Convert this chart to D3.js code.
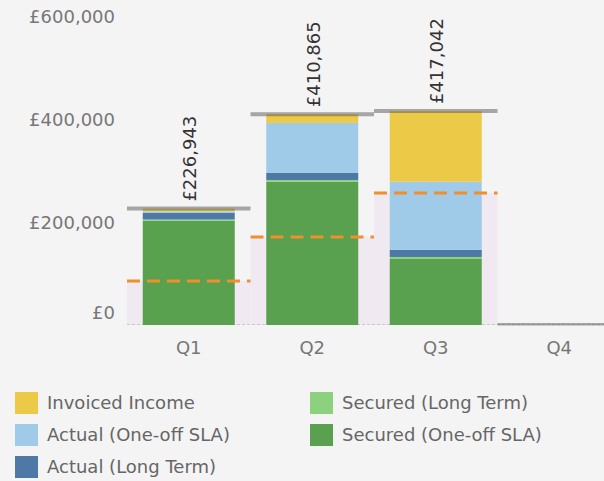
<!DOCTYPE html>
<html>
<head>
<meta charset="utf-8">
<script src="https://cdn.jsdelivr.net/npm/d3@7"></script>
<style>
    body { margin:0; background:#f4f4f4; }
    svg { display:block; font-family:"DejaVu Sans", sans-serif; }
</style>
</head>
<body>
<svg id="chart"></svg>
<script>

//values, in pounds
var quarters = ["Q1","Q2","Q3","Q4"];
var securedOneOff  = [203300, 279400, 128700, 0];
var securedLongTerm = [2300, 3300, 3900, 0];
var actualLongTerm = [12700, 13650, 13650, 0];
var actualOneOff   = [3300, 97500, 133200, 0];
var invoicedIncome = [5343, 17015, 137592, 0];
var totals  = [226943, 410865, 417042, 0];
var targets = [85800, 171500, 257300, null];
var yTicks  = [0, 200000, 400000, 600000];

//stack order from the bottom up
var seriesNames = ["Secured (One-off SLA)","Secured (Long Term)",
                   "Actual (Long Term)","Actual (One-off SLA)","Invoiced Income"];
var seriesValues = [securedOneOff, securedLongTerm, actualLongTerm,
                    actualOneOff, invoicedIncome];
var seriesColors = ["#59a14f","#8cd17d","#4e79a7","#a0cbe8","#edc948"];

//legend order, column by column
var legendNames = ["Invoiced Income","Actual (One-off SLA)","Actual (Long Term)",
                   "Secured (Long Term)","Secured (One-off SLA)"];

var pound = function(d)
{
    return "£" + d3.format(",")(d);
}

var initGraph = function(target)
{
    var screen = {width:604, height:481};
    var plot = {left:127, right:621, top:17.2, bottom:325};

    var svg = d3.select(target)
        .attr("width",screen.width)
        .attr("height",screen.height)

    svg.append("defs").append("clipPath")
        .attr("id","plotClip")
        .append("rect")
        .attr("x",plot.left)
        .attr("y",0)
        .attr("width",plot.right-plot.left)
        .attr("height",plot.bottom+0.5)

    var xScale = d3.scaleBand()
        .domain(quarters)
        .range([plot.left,plot.right])
        .padding(0)

    var yScale = d3.scaleLinear()
        .domain([0,600000])
        .range([plot.bottom,plot.top])

    var barWidth = 92;
    var barOffset = (xScale.bandwidth()-barWidth)/2;

    var g = svg.append("g")
        .attr("clip-path","url(#plotClip)")

    //shaded band up to the target
    g.selectAll("rect.band")
        .data(quarters.filter(function(q,i){ return targets[i] != null; }))
        .enter()
        .append("rect")
        .classed("band",true)
        .attr("x",function(q){ return xScale(q); })
        .attr("width",xScale.bandwidth())
        .attr("y",function(q,i){ return yScale(targets[i]); })
        .attr("height",function(q,i){ return plot.bottom-yScale(targets[i]); })
        .attr("fill","#f1e9f1")

    //zero line
    g.append("line")
        .attr("x1",plot.left)
        .attr("x2",plot.right)
        .attr("y1",plot.bottom-0.5)
        .attr("y2",plot.bottom-0.5)
        .attr("stroke","#c9c9c9")
        .attr("stroke-dasharray","3,2")

    //stacked bars
    var table = quarters.map(function(q,i)
    {
        var row = {quarter:q};
        seriesNames.forEach(function(name,s){ row[name] = seriesValues[s][i]; });
        return row;
    });
    var stacked = d3.stack().keys(seriesNames)(table);

    g.selectAll("g.series")
        .data(stacked)
        .enter()
        .append("g")
        .classed("series",true)
        .attr("fill",function(d,s){ return seriesColors[s]; })
        .selectAll("rect")
        .data(function(d){ return d; })
        .enter()
        .append("rect")
        .attr("x",function(d){ return xScale(d.data.quarter)+barOffset; })
        .attr("width",barWidth)
        .attr("y",function(d){ return yScale(d[1]); })
        .attr("height",function(d){ return yScale(d[0])-yScale(d[1]); })

    //target lines
    g.selectAll("line.target")
        .data(quarters.filter(function(q,i){ return targets[i] != null; }))
        .enter()
        .append("line")
        .classed("target",true)
        .attr("x1",function(q){ return xScale(q); })
        .attr("x2",function(q){ return xScale(q)+xScale.bandwidth(); })
        .attr("y1",function(q,i){ return yScale(targets[i]); })
        .attr("y2",function(q,i){ return yScale(targets[i]); })
        .attr("stroke","#f28e2b")
        .attr("stroke-width",3)
        .attr("stroke-dasharray","13,7")

    //total lines
    g.selectAll("line.total")
        .data(quarters)
        .enter()
        .append("line")
        .classed("total",true)
        .attr("x1",function(q){ return xScale(q); })
        .attr("x2",function(q){ return xScale(q)+xScale.bandwidth(); })
        .attr("y1",function(q,i){ return yScale(totals[i]); })
        .attr("y2",function(q,i){ return yScale(totals[i]); })
        .attr("stroke","#555")
        .attr("stroke-opacity",0.5)
        .attr("stroke-width",4)

    //total labels, turned on their side
    svg.selectAll("text.total")
        .data(quarters.filter(function(q,i){ return totals[i] > 0; }))
        .enter()
        .append("text")
        .classed("total",true)
        .attr("transform",function(q,i)
        {
            var cx = xScale(q)+xScale.bandwidth()/2+1;
            return "translate("+cx+","+(yScale(totals[i])-7)+") rotate(-90)";
        })
        .attr("dy","0.36em")
        .attr("font-size",18)
        .attr("fill","#333")
        .text(function(q,i){ return pound(totals[i]); })

    createAxes(svg,plot,xScale,yScale);
    createLegend(svg);
}

var createAxes = function(svg,plot,xScale,yScale)
{
    var yAxis = d3.axisLeft(yScale)
        .tickValues(yTicks)
        .tickSize(0)
        .tickPadding(12)
        .tickFormat(pound);

    var xAxis = d3.axisBottom(xScale)
        .tickSize(0)
        .tickPadding(16);

    var ya = svg.append("g")
        .attr("transform","translate("+plot.left+",0)")
        .call(yAxis)
    ya.select(".domain").remove();
    ya.selectAll("text")
        .attr("font-size",18)
        .attr("font-family","DejaVu Sans")
        .attr("fill","#777")
        .attr("dy",function(d){ return d == 0 ? "-0.35em" : "0.32em"; })

    var xa = svg.append("g")
        .attr("transform","translate(0,"+plot.bottom+")")
        .call(xAxis)
    xa.select(".domain").remove();
    xa.selectAll("text")
        .attr("font-size",18)
        .attr("font-family","DejaVu Sans")
        .attr("fill","#777")
}

var createLegend = function(svg)
{
    var colorOf = function(name){ return seriesColors[seriesNames.indexOf(name)]; };

    var items = svg.append("g")
        .selectAll("g")
        .data(legendNames)
        .enter()
        .append("g")
        .attr("transform",function(name,i)
        {
            var col = Math.floor(i/3), row = i%3;
            return "translate("+(15+col*295)+","+(403+row*32)+")";
        })

    items.append("rect")
        .attr("x",0)
        .attr("y",-11)
        .attr("width",23)
        .attr("height",22)
        .attr("fill",colorOf)

    items.append("text")
        .attr("x",32)
        .attr("dy","0.35em")
        .attr("font-size",18)
        .attr("fill","#666")
        .text(function(name){ return name; })
}

initGraph("#chart");

</script>
</body>
</html>
